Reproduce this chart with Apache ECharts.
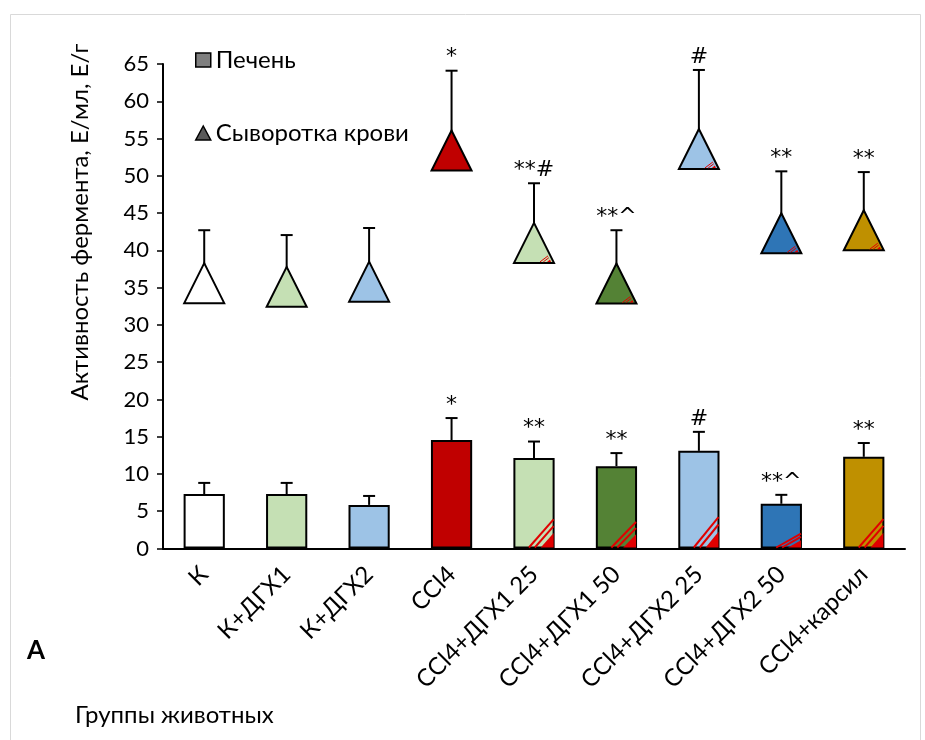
<!DOCTYPE html>
<html>
<head>
<meta charset="utf-8">
<script src="https://cdn.jsdelivr.net/npm/echarts@6/dist/echarts.min.js"></script>
<style>
  html, body { margin: 0; padding: 0; background: #fff; }
  #chart { width: 925px; height: 740px; }
</style>
</head>
<body>
<div id="chart"></div>
<script>
// группы животных
var categories = ['К', 'К+ДГХ1', 'К+ДГХ2', 'CCl4', 'CCl4+ДГХ1 25', 'CCl4+ДГХ1 50', 'CCl4+ДГХ2 25', 'CCl4+ДГХ2 50', 'CCl4+карсил'];
var groupColors = ['#ffffff', '#c5e0b4', '#9dc3e6', '#c00000', '#c5e0b4', '#548235', '#9dc3e6', '#2e75b6', '#bf9000'];
// печень
var liver = [7.3, 7.3, 5.85, 14.55, 12.15, 11.05, 13.1, 6.0, 12.3];
var liverErr = [1.5, 1.5, 1.2, 2.95, 2.2, 1.75, 2.55, 1.2, 1.85];
var liverMarks = ['', '', '', '*', '**', '**', '#', '**^', '**'];
// сыворотка крови
var serum = [35.6, 35.1, 35.8, 53.4, 41.0, 35.55, 53.6, 42.3, 42.7];
var serumErr = [7.1, 6.95, 7.2, 10.7, 8.0, 7.15, 10.6, 8.3, 7.8];
var serumMarks = ['', '', '', '*', '**#', '**^', '#', '**', '**'];
// группы с заштрихованным углом
var hatched = [0, 0, 0, 0, 1, 1, 1, 1, 1];

var FONT = 'Lato, "Noto Sans", sans-serif';
var MARK_FONT = '"DejaVu Sans", sans-serif';
var RED = '#e00000';

var myChart = echarts.init(document.getElementById('chart'), null, { renderer: 'canvas' });

function hatchShapes(xr, yb, hw, hh, lw) {
    // полоски параллельно гипотенузе в правом нижнем углу
    var out = [];
    [1, 0.76].forEach(function(t) {
        out.push({
            type: 'line',
            shape: { x1: xr - t * hw, y1: yb, x2: xr, y2: yb - t * hh },
            style: { stroke: RED, lineWidth: lw }
        });
    });
    var s = 0.52;
    out.push({
        type: 'polygon',
        shape: { points: [[xr - s * hw, yb], [xr, yb], [xr, yb - s * hh]] },
        style: { fill: RED }
    });
    return out;
}

function markText(x, y, txt) {
    return {
        type: 'text', x: x, y: y,
        style: { text: txt, fontSize: 22, fontFamily: MARK_FONT, fill: '#000', align: 'center', verticalAlign: 'bottom' }
    };
}

function liverOverlay(params, api) {
    var i = api.value(0);
    var v = api.value(1);
    var top = api.value(2);
    var base = api.coord([i, 0]);
    var p = api.coord([i, v]);
    var e = api.coord([i, top]);
    var band = api.size([1, 0])[0];
    var w = band * 0.5;
    var children = [
        { type: 'line', shape: { x1: p[0], y1: p[1], x2: e[0], y2: e[1] }, style: { stroke: '#000', lineWidth: 2 } },
        { type: 'line', shape: { x1: e[0] - 6, y1: e[1], x2: e[0] + 6, y2: e[1] }, style: { stroke: '#000', lineWidth: 2 } },
        markText(e[0], e[1] - 2, liverMarks[i])
    ];
    if (hatched[i]) {
        var h = base[1] - p[1];
        children = hatchShapes(e[0] + w / 2 - 1, base[1] - 1, w * 0.6, h * 0.31, 2).concat(children);
    }
    return { type: 'group', children: children };
}

function serumError(params, api) {
    var i = api.value(0);
    var p = api.coord([i, api.value(1)]);
    var e = api.coord([i, api.value(2)]);
    return {
        type: 'group',
        children: [
            { type: 'line', shape: { x1: p[0], y1: p[1], x2: e[0], y2: e[1] }, style: { stroke: '#000', lineWidth: 2 } },
            { type: 'line', shape: { x1: e[0] - 6, y1: e[1], x2: e[0] + 6, y2: e[1] }, style: { stroke: '#000', lineWidth: 2 } }
        ]
    };
}

function serumOverlay(params, api) {
    var i = api.value(0);
    var p = api.coord([i, api.value(1)]);
    var e = api.coord([i, api.value(2)]);
    var children = [markText(e[0], e[1] - 2, serumMarks[i])];
    if (hatched[i]) {
        var xr = p[0] + 17, yb = p[1] + 19;
        [1, 0.7].forEach(function(t) {
            children.push({ type: 'line', shape: { x1: xr - t * 11, y1: yb, x2: xr - t * 3, y2: yb - t * 6 }, style: { stroke: RED, lineWidth: 1 } });
        });
        children.push({ type: 'polygon', shape: { points: [[xr - 4, yb], [xr, yb], [xr - 1, yb - 2.5]] }, style: { fill: RED } });
    }
    return { type: 'group', children: children };
}

var option = {
    animation: false,
    backgroundColor: '#fff',
    textStyle: { fontFamily: FONT },
    grid: { left: 163, right: 20, top: 64, bottom: 191.5 },
    legend: {
        orient: 'vertical',
        left: 190,
        top: 42,
        selectedMode: false,
        itemWidth: 15,
        itemHeight: 14,
        itemGap: 47,
        textStyle: { fontSize: 24, fontFamily: FONT, color: '#000', lineHeight: 26 },
        data: [
            { name: 'Печень', icon: 'rect', itemStyle: { color: '#7f7f7f', borderColor: '#000', borderWidth: 1.5 } },
            { name: 'Сыворотка крови', icon: 'triangle', itemStyle: { color: '#595959', borderColor: '#000', borderWidth: 1.5 } }
        ]
    },
    xAxis: {
        type: 'category',
        data: categories,
        axisLine: { lineStyle: { color: '#000', width: 2 } },
        axisTick: { show: false },
        axisLabel: { rotate: 45, interval: 0, margin: 22, fontSize: 24, color: '#000', fontFamily: FONT }
    },
    yAxis: {
        type: 'value',
        min: 0,
        max: 65,
        interval: 5,
        splitLine: { show: false },
        axisLine: { show: true, lineStyle: { color: '#000', width: 2 } },
        axisTick: { show: true, length: 6, lineStyle: { color: '#000', width: 1.5 } },
        axisLabel: { fontSize: 22, margin: 14, color: '#000', fontFamily: FONT }
    },
    graphic: [
        { type: 'rect', silent: true, shape: { x: 10.5, y: 14.5, width: 910, height: 740 }, style: { fill: 'none', stroke: '#d9d9d9', lineWidth: 1 } },
        { type: 'text', x: 80, y: 222, rotation: Math.PI / 2, style: { text: 'Активность фермента, Е/мл, Е/г', fontSize: 24, fontFamily: FONT, fill: '#000', align: 'center', verticalAlign: 'middle' } },
        { type: 'text', x: 27, y: 651, style: { text: 'А', fontSize: 26, fontWeight: 'bold', fontFamily: FONT, fill: '#000', verticalAlign: 'middle' } },
        { type: 'text', x: 75, y: 715, style: { text: 'Группы животных', fontSize: 24, fontFamily: FONT, fill: '#000', verticalAlign: 'middle' } }
    ],
    series: [
        {
            name: 'Печень',
            type: 'bar',
            barWidth: '50%',
            z: 2,
            itemStyle: { color: '#7f7f7f', borderColor: '#000', borderWidth: 2 },
            data: liver.map(function(v, i) {
                return { value: v, itemStyle: { color: groupColors[i], borderColor: '#000', borderWidth: 2 } };
            })
        },
        {
            name: 'liverErr',
            type: 'custom',
            z: 3,
            renderItem: liverOverlay,
            data: liver.map(function(v, i) { return [i, v, v + liverErr[i]]; })
        },
        {
            name: 'serumErr',
            type: 'custom',
            z: 1,
            renderItem: serumError,
            data: serum.map(function(v, i) { return [i, v, v + serumErr[i]]; })
        },
        {
            name: 'Сыворотка крови',
            type: 'scatter',
            symbol: 'triangle',
            symbolSize: [40, 40],
            z: 4,
            itemStyle: { color: '#595959', borderColor: '#000', borderWidth: 2, opacity: 1 },
            data: serum.map(function(v, i) {
                return { value: [i, v], itemStyle: { color: groupColors[i] } };
            })
        },
        {
            name: 'serumMarks',
            type: 'custom',
            z: 5,
            renderItem: serumOverlay,
            data: serum.map(function(v, i) { return [i, v, v + serumErr[i]]; })
        }
    ]
};
myChart.setOption(option);
</script>
</body>
</html>
